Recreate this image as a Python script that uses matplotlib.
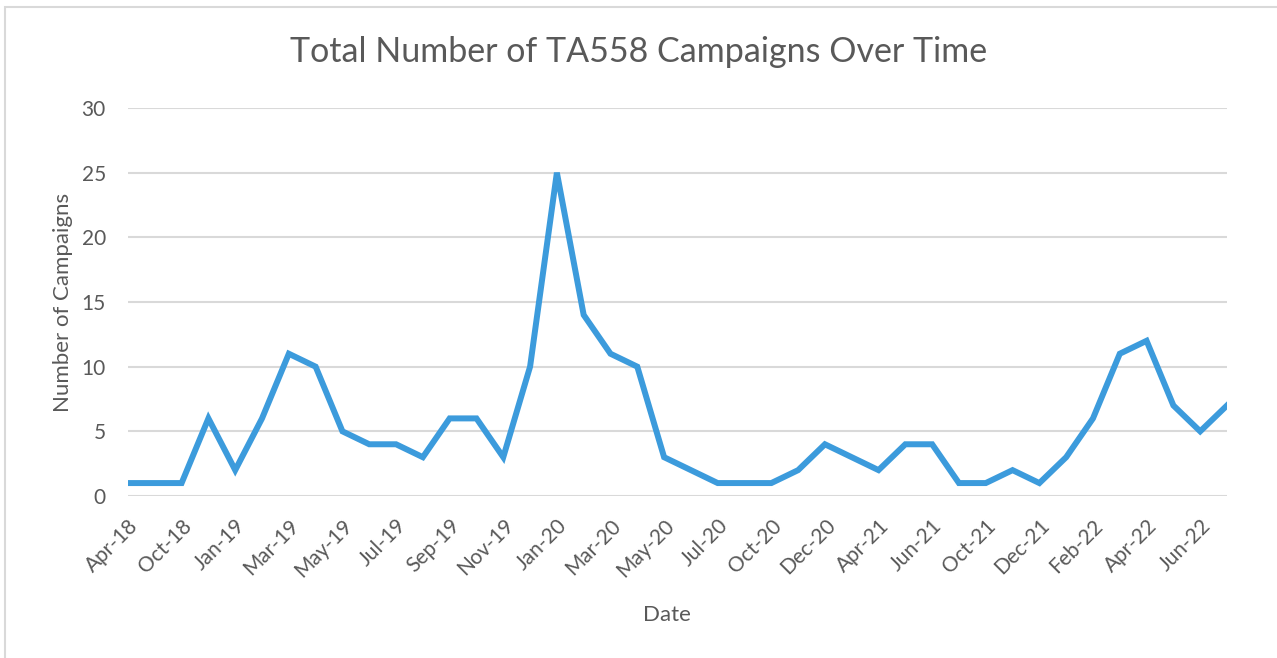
import matplotlib.pyplot as plt
from matplotlib.patches import Rectangle

# 数据
dates = ['Apr-18', 'Jul-18', 'Oct-18', 'Dec-18', 'Jan-19', 'Feb-19', 'Mar-19', 'Apr-19',
         'May-19', 'Jun-19', 'Jul-19', 'Aug-19', 'Sep-19', 'Oct-19', 'Nov-19', 'Dec-19',
         'Jan-20', 'Feb-20', 'Mar-20', 'Apr-20', 'May-20', 'Jun-20', 'Jul-20', 'Sep-20',
         'Oct-20', 'Nov-20', 'Dec-20', 'Mar-21', 'Apr-21', 'May-21', 'Jun-21', 'Sep-21',
         'Oct-21', 'Nov-21', 'Dec-21', 'Jan-22', 'Feb-22', 'Mar-22', 'Apr-22', 'May-22',
         'Jun-22', 'Jul-22']
campaigns = [1, 1, 1, 6, 2, 6, 11, 10, 5, 4, 4, 3, 6, 6, 3, 10,
             25, 14, 11, 10, 3, 2, 1, 1, 1, 2, 4, 3, 2, 4, 4, 1,
             1, 2, 1, 3, 6, 11, 12, 7, 5, 7]
y_ticks = [0, 5, 10, 15, 20, 25, 30]

text_color = '#595959'
plt.rcParams['font.family'] = ['Lato', 'DejaVu Sans']

fig = plt.figure(figsize=(12.77, 6.58), dpi=100)
W, H = 1277, 658
ax = fig.add_axes([128 / W, 1 - 496 / H, (1227 - 128) / W, (496 - 108) / H])

# 外框
fig.patches.append(Rectangle((5 / W, -0.01), 1.0, 1 - 7 / H + 0.01, transform=fig.transFigure,
                             fill=False, edgecolor='#D9D9D9', linewidth=1.5))

x = list(range(len(dates)))
ax.plot(x, campaigns, color='#3C9BDC', linewidth=4.3, solid_joinstyle='miter', zorder=3)

ax.set_xlim(0, len(dates) - 1)
ax.set_ylim(0, 30)
ax.set_yticks(y_ticks)
ax.set_xticks(x[::2])
ax.set_xticklabels(dates[::2], rotation=45, ha='right', rotation_mode='anchor')

ax.grid(axis='y', color='#D9D9D9', linewidth=1.5)
ax.set_axisbelow(True)
for s in ax.spines.values():
    s.set_visible(False)
ax.tick_params(length=0, colors=text_color, labelsize=15)
ax.tick_params(axis='y', pad=16)
ax.tick_params(axis='x', pad=14)

fig.text(0.5, 1 - 52 / H, 'Total Number of TA558 Campaigns Over Time', fontsize=24.5,
         color=text_color, ha='center', va='center')
ax.set_xlabel('Date', fontsize=16, color=text_color)
ax.xaxis.set_label_coords(0.49, -0.28)
ax.set_ylabel('Number of Campaigns', fontsize=16, color=text_color, labelpad=6)

fig.savefig('out.png', dpi=100, facecolor='white')
